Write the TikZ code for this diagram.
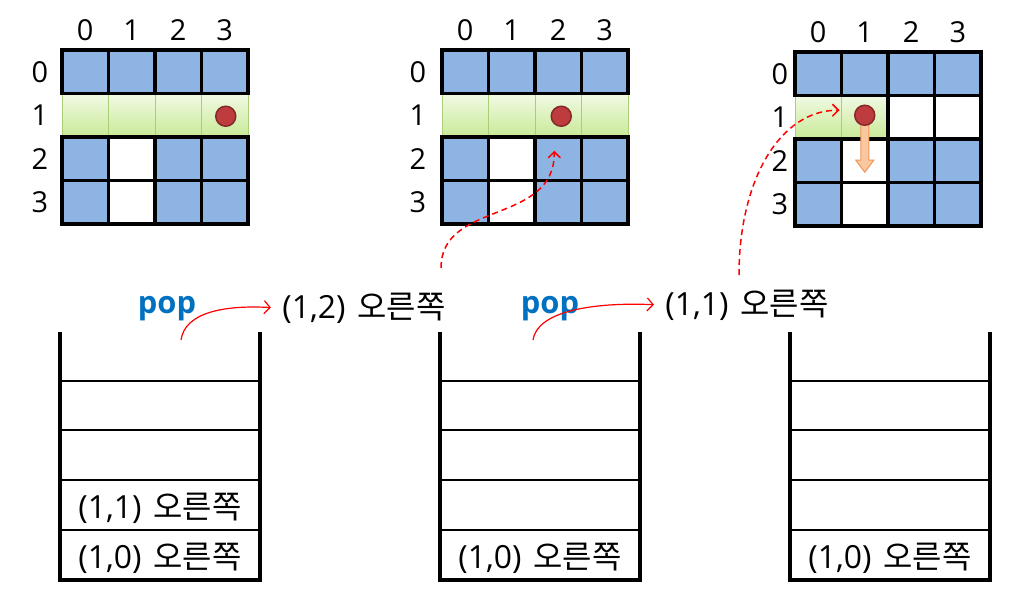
\documentclass[tikz,border=0pt]{standalone}
\usepackage{fontspec}
\setmainfont{Open Sans}
\newfontfamily\kr{Noto Sans CJK KR}
\usetikzlibrary{calc,arrows.meta}

\definecolor{cellblue}{RGB}{141,180,226}
\definecolor{rowgreen}{RGB}{200,234,150}
\definecolor{rowline}{RGB}{170,205,120}
\definecolor{dotred}{RGB}{190,60,62}
\definecolor{popblue}{RGB}{0,112,192}
\definecolor{arrowfill}{RGB}{250,200,160}
\definecolor{arrowline}{RGB}{240,150,90}

% cell and direction, as pushed on the stack
\newcommand{\move}[1]{{\fontsize{32}{36}\selectfont #1}\hspace{12bp}{\kr\fontsize{32}{36}\selectfont 오른쪽}}

\begin{document}
\begin{tikzpicture}[x=1bp,y=-1bp]
\tikzstyle{every node}=[font=\fontsize{29}{34}\selectfont]
\tikzstyle{cell}=[draw,line width=3.5bp,minimum width=46.5bp,minimum height=43.5bp,inner sep=0pt,outer sep=0pt]
\tikzstyle{greencell}=[cell,draw=rowline,line width=1bp,top color=rowgreen!25!white,bottom color=rowgreen]
\tikzstyle{dot}=[circle,fill=dotred,draw=dotred!70!black,line width=1.5bp,minimum size=20bp,inner sep=0pt]
\tikzstyle{wall}=[line width=3.5bp]
\tikzstyle{slot}=[line width=1.5bp]
\tikzstyle{pop}=[font=\fontsize{31}{34}\selectfont\bfseries,text=popblue]
\tikzstyle{popline}=[red,line width=1.2bp,-{Straight Barb[length=6bp,width=13bp]}]
\tikzstyle{hop}=[red,line width=1.5bp,dash pattern=on 6bp off 4bp,-{Straight Barb[length=6bp,width=12bp]}]

\useasboundingbox (0,0) rectangle (1028,596);

% Row 1 (green) first, so the black borders lie on top
\foreach \gx/\gy/\g in {62/50/a,442/50/b}
  \foreach \c in {0,...,3}
    \node[greencell] (\g-1-\c) at (\gx+\c*46.5+23.25,\gy+65.25) {};
\foreach \c in {0,1}
  \node[greencell] (c-1-\c) at (795+\c*46.5+23.25,52+65.25) {};

% Maze grids with index labels
\foreach \gx/\gy/\lx/\g in {62/50/40/a,442/50/418/b,795/52/780/c}{
  \foreach \r/\c in {0/0,0/1,0/2,0/3,2/0,2/2,2/3,3/0,3/2,3/3}
    \node[cell,fill=cellblue] (\g-\r-\c) at (\gx+\c*46.5+23.25,\gy+\r*43.5+21.75) {};
  \foreach \r/\c in {2/1,3/1}
    \node[cell,fill=white] (\g-\r-\c) at (\gx+\c*46.5+23.25,\gy+\r*43.5+21.75) {};
  \foreach \i in {0,...,3}{
    \node (\g-col\i) at (\gx+\i*46.5+23.25,\gy-20) {\i};
    \node (\g-row\i) at (\lx,\gy+\i*43.5+21.75) {\i};
  }
}
\foreach \c in {2,3}
  \node[cell,fill=white] (c-1-\c) at (795+\c*46.5+23.25,52+65.25) {};

% Current position
\node[dot] (dot-a) at ($(a-1-3)+(1,1)$) {};
\node[dot] (dot-b) at ($(b-1-2)+(3,1)$) {};
\begin{scope}[shift={($(c-1-1)+(0,-2)$)}]
\draw[arrowline,fill=arrowfill,line width=1bp]
  (-4,8) -- (4,8) -- (4,45) -- (9,45) -- (0,57) -- (-9,45) -- (-4,45) -- cycle;
\end{scope}
\node[dot] (dot-c) at ($(c-1-1)+(0,-2)$) {};

% Stacks
\foreach \sx/\s in {60/p,440/q,790/r}{
  \foreach \y in {381,430,480,530}
    \draw[slot] (\sx,\y) -- (\sx+200,\y);
  \draw[wall] (\sx,332) -- (\sx,580) -- (\sx+200,580) -- (\sx+200,332);
  \node (\s-0) at (\sx+100,558) {\move{(1,0)}};
}
\node (p-1) at (160,508) {\move{(1,1)}};

% Popped items
\node[pop] (pop1) at (167,309) {pop};
\node (next1) at (364,308) {\move{(1,2)}};
\node[pop] (pop2) at (550,309) {pop};
\node (next2) at (747,305) {\move{(1,1)}};

\coordinate (from1) at (181,340);
\coordinate (from2) at (533,340);
\draw[popline,shorten >=8bp] (from1) .. controls (185,312) and (225,305) .. (next1.west);
\draw[popline,shorten >=8bp] (from2) .. controls (537,312) and (590,302) .. (next2.west);

\coordinate (up1) at (441,268);
\coordinate (up2) at (739,275);
\draw[hop] (up1) .. controls (441,200) and (555,225) .. ($(b-2-2)+(-4,-8)$);
\draw[hop] (up2) .. controls (739,180) and (780,110) .. ($(c-1-0.east)+(-2,-7)$);

\end{tikzpicture}
\end{document}
